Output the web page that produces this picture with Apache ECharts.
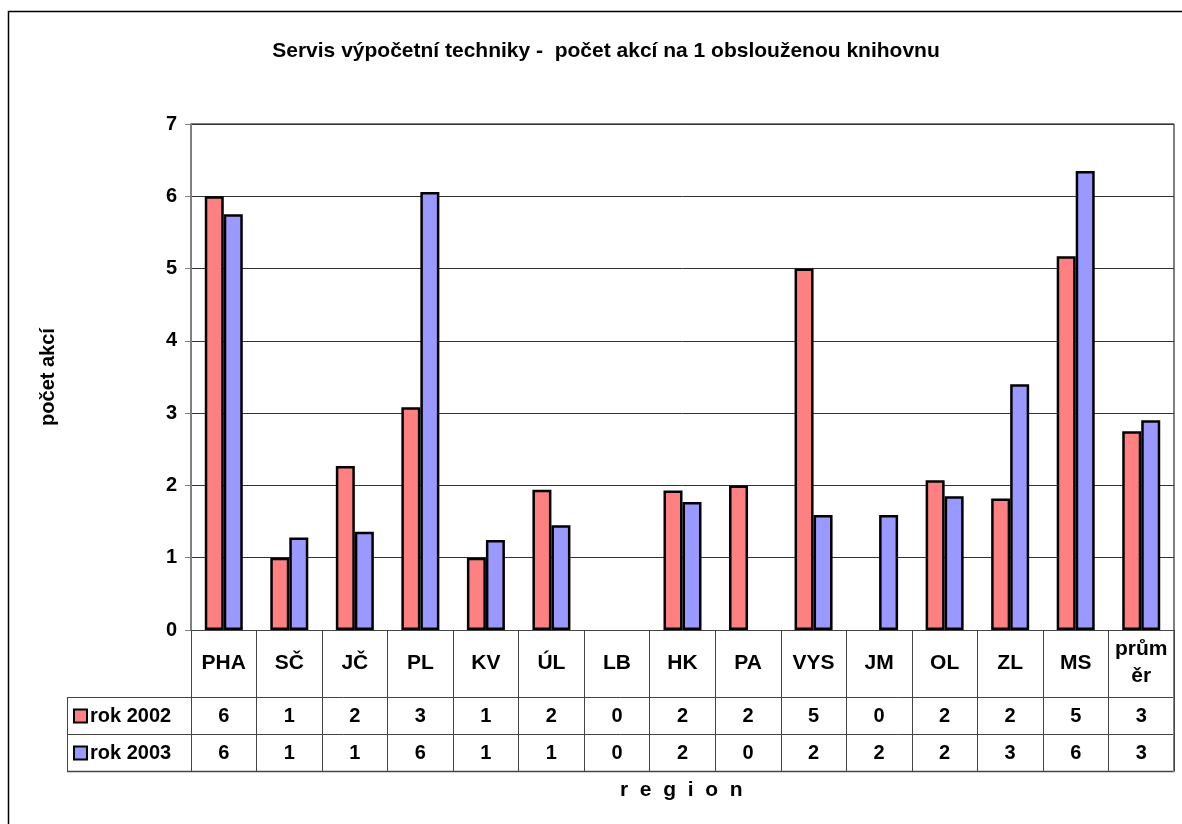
<!DOCTYPE html>
<html>
<head>
<meta charset="utf-8">
<script src="https://cdn.jsdelivr.net/npm/echarts@6/dist/echarts.min.js"></script>
<style>
  html,body{margin:0;padding:0;background:#fff;}
  #main{width:1182px;height:824px;}
</style>
</head>
<body>
<div id="main"></div>
<script>
  // data
  var regions = ['PHA','SČ','JČ','PL','KV','ÚL','LB','HK','PA','VYS','JM','OL','ZL','MS','průměr'];
  var rok2002 = [6.0,1.0,2.27,3.08,1.0,1.94,0,1.93,2.0,5.0,0,2.07,1.82,5.17,2.75];
  var rok2003 = [5.75,1.28,1.36,6.06,1.245,1.45,0,1.77,0,1.59,1.59,1.85,3.40,6.35,2.90];
  var tab2002 = [6,1,2,3,1,2,0,2,2,5,0,2,2,5,3];
  var tab2003 = [6,1,1,6,1,1,0,2,0,2,2,2,3,6,3];
  var yTicks = [0,1,2,3,4,5,6,7];

  var font = 'Liberation Sans, Arial, sans-serif';
  var red = '#FF8080', blue = '#9999FF';
  var lineCol = '#444';

  var myChart = echarts.init(document.getElementById('main'));

  // zero values have no visible bar in the original
  function barData(arr){
    return arr.map(function(v){
      return v === 0 ? {value: 0, itemStyle: {borderWidth: 0}} : v;
    });
  }

  // table rows share the x scale of the chart, only the labels differ
  function rowAxis(data, margin){
    return {
      type: 'category',
      position: 'bottom',
      gridIndex: 0,
      data: data,
      axisLine: {show: false},
      axisTick: {show: false},
      splitLine: {show: false},
      axisLabel: {
        interval: 0,
        margin: margin,
        verticalAlign: 'middle',
        color: '#000',
        fontFamily: font,
        fontWeight: 'bold',
        fontSize: 20
      }
    };
  }

  function legendRow(name, top){
    return {
      orient: 'vertical',
      left: 73,
      top: top,
      padding: 0,
      itemWidth: 13,
      itemHeight: 13,
      icon: 'rect',
      textStyle: {fontFamily: font, fontWeight: 'bold', fontSize: 20, lineHeight: 20, color: '#000', padding: [0,0,0,-2]},
      data: [name]
    };
  }

  var option = {
    animation: false,
    title: {
      text: 'Servis výpočetní techniky -  počet akcí na 1 obslouženou knihovnu',
      left: 601,
      top: 36,
      textAlign: 'center',
      textStyle: {fontFamily: font, fontWeight: 'bold', fontSize: 21, color: '#000'}
    },
    legend: [legendRow('rok 2002', 706), legendRow('rok 2003', 743)],
    grid: {left: 191, right: 8, top: 124, bottom: 194, containLabel: false},
    xAxis: [
      {
        type: 'category',
        data: regions,
        axisLine: {show: true, lineStyle: {color: lineCol, width: 1}},
        axisTick: {show: true, length: 141, lineStyle: {color: lineCol, width: 1}},
        axisLabel: {
          interval: 0,
          margin: 33,
          verticalAlign: 'middle',
          lineHeight: 27,
          color: '#000',
          fontFamily: font,
          fontWeight: 'bold',
          fontSize: 21,
          formatter: function(v){ return v === 'průměr' ? 'prům\něr' : v; }
        }
      },
      rowAxis(tab2002, 86),
      rowAxis(tab2003, 123)
    ],
    yAxis: {
      type: 'value',
      min: 0,
      max: 7,
      interval: 1,
      name: 'počet akcí',
      nameLocation: 'middle',
      nameGap: 133,
      nameRotate: 90,
      nameTextStyle: {fontFamily: font, fontWeight: 'bold', fontSize: 20, color: '#000'},
      axisLine: {show: true, lineStyle: {color: '#808080', width: 2}},
      axisTick: {show: true, inside: false, length: 6, lineStyle: {color: '#808080'}},
      axisLabel: {
        margin: 14,
        color: '#000',
        fontFamily: font,
        fontWeight: 'bold',
        fontSize: 20,
        formatter: function(v){ return yTicks.indexOf(v) >= 0 ? String(v) : ''; }
      },
      splitLine: {show: true, lineStyle: {color: '#333', width: 1}}
    },
    series: [
      {
        name: 'rok 2002',
        type: 'bar',
        data: barData(rok2002),
        barGap: '0%',
        barCategoryGap: '42%',
        itemStyle: {color: red, borderColor: '#000', borderWidth: 2.5}
      },
      {
        name: 'rok 2003',
        type: 'bar',
        data: barData(rok2003),
        barGap: '0%',
        barCategoryGap: '42%',
        itemStyle: {color: blue, borderColor: '#000', borderWidth: 2.5}
      }
    ],
    graphic: [
      // outer chart border
      {type: 'rect', shape: {x: 8.5, y: 11.5, width: 1300, height: 1000}, style: {fill: 'none', stroke: '#000', lineWidth: 1.5}, silent: true},
      // plot area top and right edge
      {type: 'line', shape: {x1: 191, y1: 124, x2: 1174, y2: 124}, style: {stroke: '#808080', lineWidth: 2}, silent: true},
      {type: 'line', shape: {x1: 1174, y1: 124, x2: 1174, y2: 630}, style: {stroke: '#808080', lineWidth: 2}, silent: true},
      // data table rows
      {type: 'line', shape: {x1: 67, y1: 697.5, x2: 1174, y2: 697.5}, style: {stroke: lineCol, lineWidth: 1}, silent: true},
      {type: 'line', shape: {x1: 67, y1: 734.5, x2: 1174, y2: 734.5}, style: {stroke: lineCol, lineWidth: 1}, silent: true},
      {type: 'line', shape: {x1: 67, y1: 771.5, x2: 1174, y2: 771.5}, style: {stroke: lineCol, lineWidth: 1.5}, silent: true},
      {type: 'line', shape: {x1: 67.5, y1: 697, x2: 67.5, y2: 772}, style: {stroke: lineCol, lineWidth: 1}, silent: true},
      {type: 'line', shape: {x1: 1174, y1: 630, x2: 1174, y2: 772}, style: {stroke: '#808080', lineWidth: 2}, silent: true},
      {
        type: 'text', left: 620, top: 780,
        style: {text: 'r  e  g  i  o  n', fontFamily: font, fontWeight: 'bold', fontSize: 21, fill: '#000'}
      }
    ]
  };

  myChart.setOption(option);
</script>
</body>
</html>
